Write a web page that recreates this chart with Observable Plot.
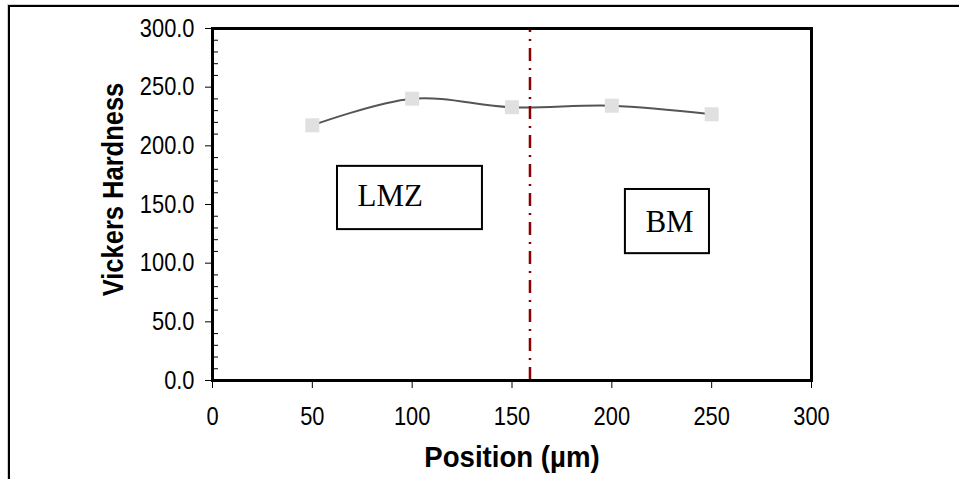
<!DOCTYPE html>
<html>
<head>
<meta charset="utf-8">
<script src="https://cdn.jsdelivr.net/npm/d3@7"></script>
<script src="https://cdn.jsdelivr.net/npm/@observablehq/plot@0.6"></script>
<style>
  html, body { margin: 0; padding: 0; background: #fff; overflow: hidden; }
  #wrap { position: relative; width: 959px; height: 479px; }
  #outer { position: absolute; left: 8px; top: 5px; width: 2000px; height: 2000px;
           border-left: 2px solid #000; border-top: 2px solid #000;
           box-shadow: -1px -1px 0 #d0d0d0; pointer-events: none; }
  #chart { position: absolute; left: 0; top: 0; }
</style>
</head>
<body>
<div id="wrap"><div id="chart"></div><div id="outer"></div></div>
<script>
// Data
const positions = [50, 100, 150, 200, 250];
const hardness = [217.5, 240.2, 232.9, 234.2, 226.9];
const xTicks = [0, 50, 100, 150, 200, 250, 300];
const yTicks = [0, 50, 100, 150, 200, 250, 300];
const yMinor = d3.range(0, 301, 10).filter(v => v % 50 !== 0);
const boundary = [159];
const zoneLabels = ["LMZ", "BM"];
const zoneBoxX1 = [62.6, 206.8];
const zoneBoxX2 = [135.2, 248.9];
const zoneBoxY1 = [128.6, 108.1];
const zoneBoxY2 = [182.5, 162.8];
const zoneTextX = [72.6, 216.8];
const zoneTextY = [149, 126.9];
const xLabel = "Position (µm)";
const yLabel = "Vickers Hardness";

const pts = positions.map((p, i) => ({x: p, y: hardness[i]}));
const boxes = zoneLabels.map((t, i) => ({t, x1: zoneBoxX1[i], x2: zoneBoxX2[i], y1: zoneBoxY1[i], y2: zoneBoxY2[i], tx: zoneTextX[i], ty: zoneTextY[i]}));

const sans = "'Liberation Sans', Arial, sans-serif";
const chart = Plot.plot({
  width: 959,
  height: 479,
  marginLeft: 212,
  marginRight: 148,
  marginTop: 28,
  marginBottom: 99,
  x: {domain: [0, 300]},
  y: {domain: [0, 300]},
  style: {fontFamily: sans, fontSize: "26px", color: "#000", background: "transparent", overflow: "visible"},
  marks: [
    Plot.rect(boxes, {x1: "x1", x2: "x2", y1: "y1", y2: "y2", fill: "#fff", stroke: "#000", strokeWidth: 2}),
    Plot.text(boxes, {x: "tx", y: "ty", text: "t", textAnchor: "start", lineAnchor: "bottom",
      fontFamily: "'Liberation Serif', 'Times New Roman', serif", fontSize: 31, fill: "#000"}),
    Plot.line(pts, {x: "x", y: "y", curve: "catmull-rom", stroke: "#555", strokeWidth: 2}),
    Plot.ruleX(boundary, {x: d => d, y1: 0, y2: 300, stroke: "#8b0000", strokeWidth: 2.5, strokeDasharray: "13,7,2,7"}),
    Plot.dot(pts, {x: "x", y: "y", symbol: "square", r: 7.9, fill: "#e0e0e0", stroke: "none"}),
    Plot.axisY(yMinor, {tickSize: -6, tickFormat: () => "", label: null}),
    Plot.axisY(yTicks, {tickSize: 7, tickPadding: 11, tickFormat: d => d.toFixed(1), label: null, fontSize: 26}),
    Plot.axisX(xTicks, {tickSize: 8, tickPadding: 18, tickFormat: d => String(d), label: null, fontSize: 26}),
    Plot.frame({stroke: "#000", strokeWidth: 3}),
    Plot.text([xLabel], {frameAnchor: "bottom", dy: 86, textAnchor: "middle", lineAnchor: "bottom", text: d => d, fontWeight: "bold", fontSize: 30, fill: "#000"}),
    Plot.text([yLabel], {frameAnchor: "left", dx: -99, dy: -15, rotate: -90, textAnchor: "middle", lineAnchor: "middle", text: d => d, fontWeight: "bold", fontSize: 30, fill: "#000"})
  ]
});
document.getElementById("chart").appendChild(chart);

// Condensed (tall) look of the original's Arial texts: compress glyph widths
function condense(el, k) {
  const L = el.getComputedTextLength();
  if (L > 0) {
    el.setAttribute("textLength", (L * k).toFixed(2));
    el.setAttribute("lengthAdjust", "spacingAndGlyphs");
  }
}
chart.querySelectorAll('g[aria-label="y-axis tick label"] text, g[aria-label="x-axis tick label"] text')
  .forEach(el => condense(el, 0.84));
chart.querySelectorAll('text').forEach(el => {
  if (el.textContent === xLabel) condense(el, 0.92);
  else if (el.textContent === yLabel) condense(el, 0.85);
});
</script>
</body>
</html>
